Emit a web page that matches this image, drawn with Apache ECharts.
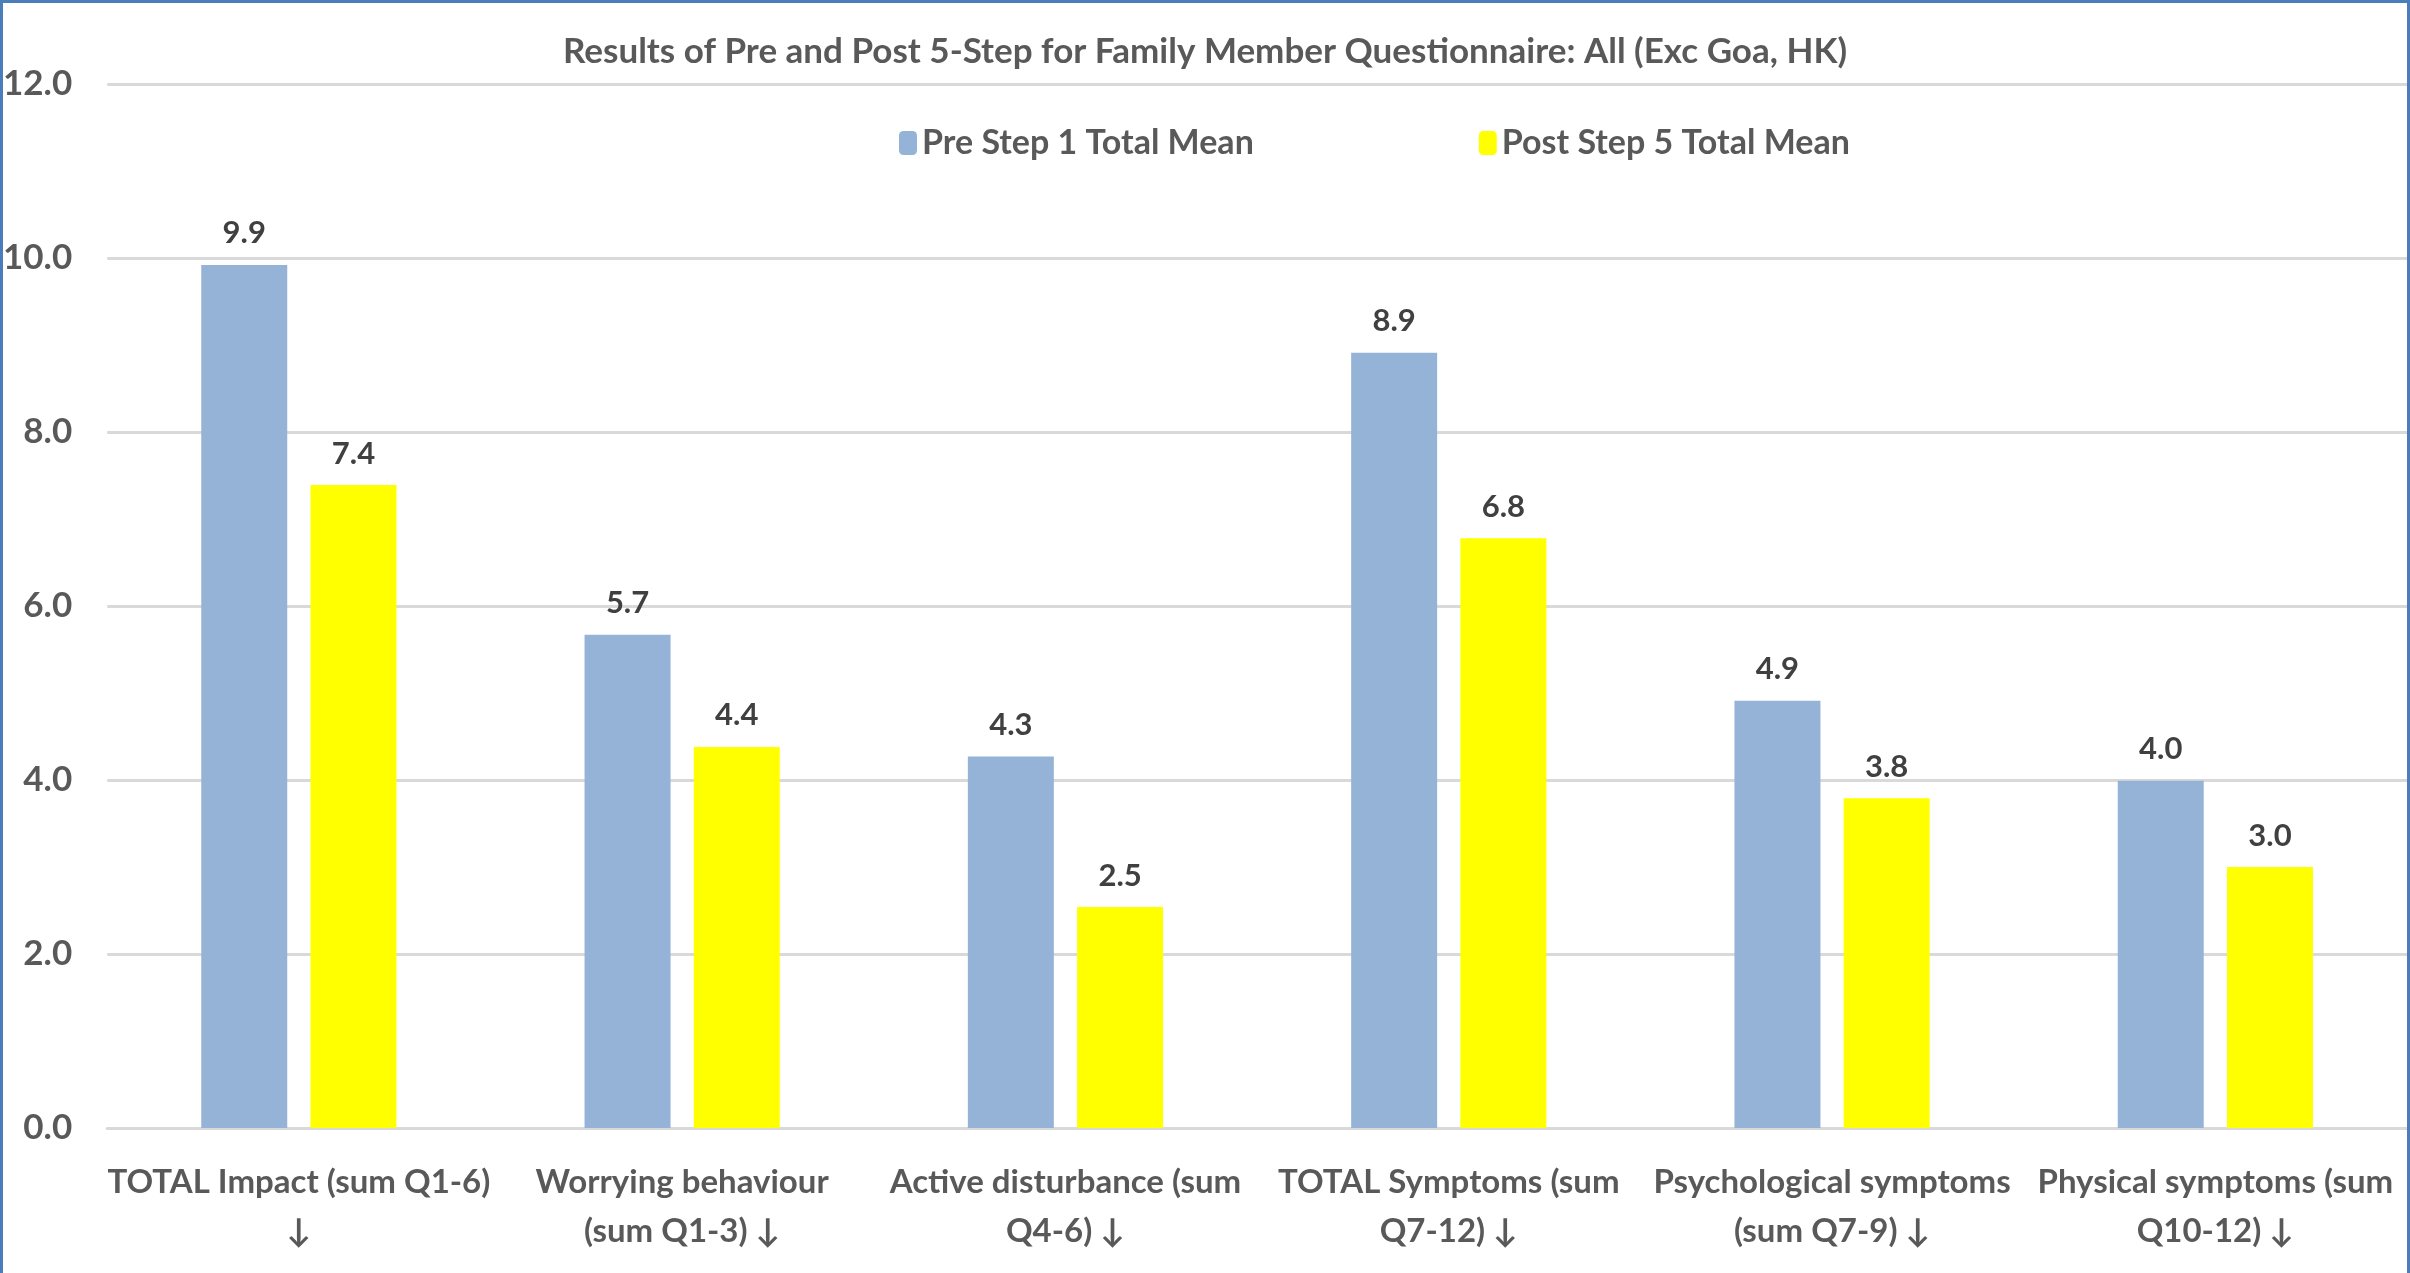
<!DOCTYPE html>
<html>
<head>
<meta charset="utf-8">
<script src="https://cdn.jsdelivr.net/npm/echarts@6/dist/echarts.min.js"></script>
<style>
  html, body { margin: 0; padding: 0; background: #fff; }
  #wrap { position: relative; width: 2410px; height: 1273px; }
  #main { width: 2410px; height: 1273px; }
  #frame {
    position: absolute; left: 0; top: 0; width: 2410px; height: 1280px;
    box-sizing: border-box; border: 3px solid #4A7EBB; pointer-events: none;
  }
</style>
</head>
<body>
<div id="wrap">
  <div id="main"></div>
  <div id="frame"></div>
</div>
<script>
const categories = [
  'TOTAL Impact (sum Q1-6)\n↓',
  'Worrying behaviour\n(sum Q1-3) ↓',
  'Active disturbance (sum\nQ4-6) ↓',
  'TOTAL Symptoms (sum\nQ7-12) ↓',
  'Psychological symptoms\n(sum Q7-9) ↓',
  'Physical symptoms (sum\nQ10-12) ↓'
]
const preName = 'Pre Step 1 Total Mean'
const postName = 'Post Step 5 Total Mean'
const preValues = [9.92, 5.67, 4.27, 8.91, 4.91, 3.99]
const postValues = [7.39, 4.38, 2.54, 6.78, 3.79, 3.0]

const font = 'Lato, "Open Sans", sans-serif'
const chart = echarts.init(document.getElementById('main'))

const barLabel = {
  show: true,
  position: 'top',
  distance: 16,
  color: '#404040',
  fontWeight: 'bold',
  fontSize: 31,
  fontFamily: font,
  formatter: (p) => p.value.toFixed(1)
}

chart.setOption({
  backgroundColor: '#fff',
  animation: false,
  title: {
    text: 'Results of Pre and Post 5-Step for Family Member Questionnaire: All (Exc Goa, HK)',
    left: 'center',
    top: 29,
    textStyle: { color: '#595959', fontSize: 35, fontWeight: 'bold', fontFamily: font }
  },
  legend: {
    data: [preName, postName],
    top: 121,
    left: 894,
    itemWidth: 18,
    itemHeight: 24,
    itemGap: 225,
    textStyle: { color: '#595959', fontSize: 34, fontWeight: 'bold', fontFamily: font }
  },
  grid: { left: 105, right: 3, top: 84, bottom: 145 },
  xAxis: {
    type: 'category',
    data: categories,
    axisLine: { lineStyle: { color: '#D9D9D9', width: 3 } },
    axisTick: { show: false },
    axisLabel: {
      color: '#595959',
      fontSize: 33,
      fontWeight: 'bold',
      fontFamily: font,
      lineHeight: 49,
      margin: 30,
      interval: 0
    }
  },
  yAxis: {
    type: 'value',
    min: 0,
    max: 12,
    interval: 2,
    axisLine: { show: false },
    axisTick: { show: false },
    splitLine: { lineStyle: { color: '#D9D9D9', width: 3 } },
    axisLabel: {
      color: '#595959',
      fontSize: 35,
      fontWeight: 'bold',
      fontFamily: font,
      margin: 35,
      formatter: (v) => v.toFixed(1)
    }
  },
  series: [
    {
      name: preName,
      type: 'bar',
      data: preValues,
      barWidth: 86,
      barGap: '27%',
      itemStyle: { color: '#95B3D7' },
      label: barLabel
    },
    {
      name: postName,
      type: 'bar',
      data: postValues,
      barWidth: 86,
      itemStyle: { color: '#FFFF00' },
      label: barLabel
    }
  ]
})
</script>
</body>
</html>
